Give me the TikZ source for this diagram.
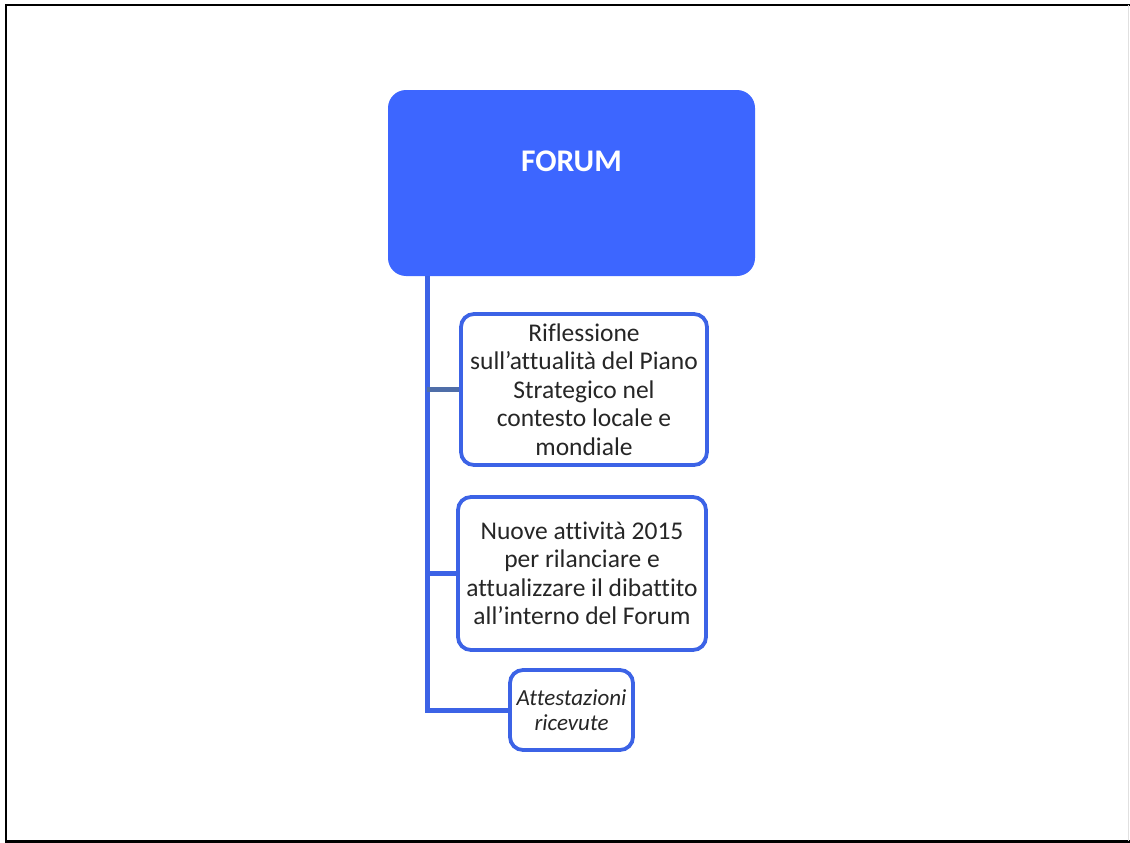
\documentclass[tikz,border=0pt]{standalone}
\usepackage{fontspec}
\setmainfont[Ligatures=NoCommon]{Carlito}
\definecolor{forumblue}{HTML}{3D66FF}
\definecolor{edgeblue}{HTML}{3C63E6}
\definecolor{linkgray}{HTML}{4F6EA8}
\definecolor{txt}{HTML}{262626}
\begin{document}
\begin{tikzpicture}[x=1pt,y=-1pt,
  topbox/.style={draw=none,fill=forumblue,rounded corners=18pt,minimum width=367pt,minimum height=186pt,inner sep=0pt},
  subbox/.style={draw=edgeblue,line width=3.8pt,fill=white,rounded corners=13pt,inner sep=0pt,align=center,text=txt,font=\fontsize{25.5}{28.5}\selectfont},
  link/.style={draw=edgeblue,line width=5pt},
  frame/.style={draw=black,line width=2.5pt}]
\useasboundingbox (0,0) rectangle (1130,843);
% page frame
\draw[frame] (6,843) -- (6,5) -- (1130,5);
\draw[frame] (6,841.5) -- (1130,841.5);
\draw[draw=black!12,line width=1pt] (1128.5,5) -- (1128.5,841);
% main box
\node[topbox] (forum) at (571.5,183) {};
\node[text=white,font=\fontsize{31.5}{34}\selectfont\bfseries] (forumlabel) at (571.5,161) {FORUM};
% sub boxes
\node[subbox,minimum width=246pt,minimum height=151pt] (b1) at (584,389.5)
  {Riflessione\\sull’attualità del Piano\\Strategico nel\\contesto locale e\\mondiale};
\node[subbox,minimum width=248pt,minimum height=153pt] (b2) at (582,573.5)
  {Nuove attività 2015\\per rilanciare e\\attualizzare il dibattito\\all’interno del Forum};
\node[subbox,minimum width=123pt,minimum height=80pt,font=\fontsize{23}{24.5}\selectfont\itshape] (b3) at (571.5,710)
  {Attestazioni\\ricevute};
% connectors
\coordinate (spine) at (427,0);
\draw[link] (forum.south -| spine) -- (b3.west -| spine) -- (b3.west);
\draw[draw=linkgray,line width=5pt] (b1.west -| spine) -- (b1.west);
\draw[link] (b2.west -| spine) -- (b2.west);
\end{tikzpicture}
\end{document}
